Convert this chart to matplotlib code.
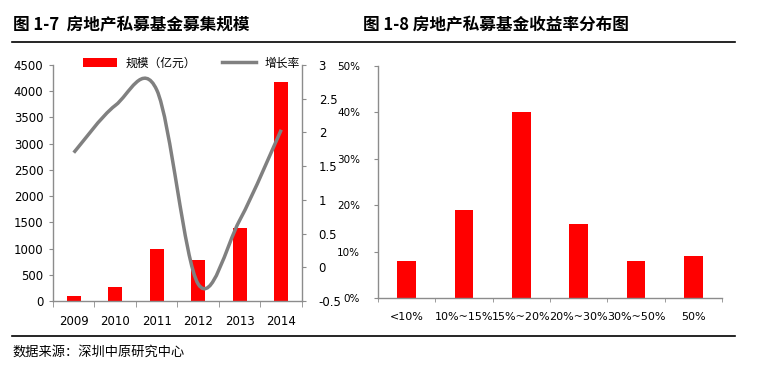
import matplotlib
matplotlib.use("Agg")
import numpy as np
import matplotlib.pyplot as plt
from matplotlib.path import Path
from matplotlib.patches import PathPatch, Patch
from matplotlib.lines import Line2D

plt.rcParams['font.family'] = ['Noto Sans CJK SC', 'DejaVu Sans']

# data
years = ['2009', '2010', '2011', '2012', '2013', '2014']
scale = [90, 270, 985, 775, 1385, 4170]
growth = [1.70, 2.40, 2.63, -0.25, 0.70, 2.04]

ret_labels = ['<10%', '10%~15%', '15%~20%', '20%~30%', '30%~50%', '50%']
ret_share = [8, 19, 40, 16, 8, 9]

W, H = 759, 368
fig = plt.figure(figsize=(W / 100, H / 100), dpi=100)
GRAY = '#8c8c8c'
RED = '#ff0000'


def px_axes(x0, y0, x1, y1):
    return fig.add_axes([x0 / W, 1 - y1 / H, (x1 - x0) / W, (y1 - y0) / H])


def style(ax):
    for s in ax.spines.values():
        s.set_color(GRAY)
        s.set_linewidth(1)
    ax.spines['top'].set_visible(False)
    ax.tick_params(colors=GRAY, labelcolor='black')


# ---- left chart
ax = px_axes(53, 65, 302, 301)
x = np.arange(len(years))
ax.bar(x, scale, width=0.34, color=RED, zorder=2)
ax.set_xlim(-0.5, 5.5)
ax.set_ylim(0, 4500)
ax.set_yticks(np.arange(0, 4501, 500))
ax.set_xticks(x)
ax.set_xticklabels(years, fontsize=8.5, family='DejaVu Sans')
ax.set_xticks(np.arange(-0.5, 6, 1), minor=True)
ax.tick_params(axis='x', which='major', length=0, pad=10)
ax.tick_params(axis='x', which='minor', length=4, color=GRAY)
ax.tick_params(axis='y', length=3, labelsize=8.5, pad=4)
for t in ax.get_yticklabels():
    t.set_family('DejaVu Sans')
style(ax)
ax.spines['right'].set_visible(False)

ax2 = ax.twinx()
ax2.set_ylim(-0.5, 3)
ax2.set_yticks([-0.5, 0, 0.5, 1, 1.5, 2, 2.5, 3])
ax2.set_yticklabels(['-0.5', '0', '0.5', '1', '1.5', '2', '2.5', '3'],
                    fontsize=8.5, family='DejaVu Sans')
ax2.tick_params(axis='y', length=3, pad=9)
style(ax2)
ax2.spines['left'].set_visible(False)
ax2.spines['bottom'].set_visible(False)

# smooth line (bezier through the points, like a spreadsheet "smoothed line")
pts = np.column_stack([x, growth]).astype(float)
ext = np.vstack([pts[0], pts, pts[-1]])
verts = [tuple(pts[0])]
codes = [Path.MOVETO]
for i in range(len(pts) - 1):
    p0, p1, p2, p3 = ext[i], ext[i + 1], ext[i + 2], ext[i + 3]
    c1 = p1 + (p2 - p0) / 6
    c2 = p2 - (p3 - p1) / 6
    verts += [tuple(c1), tuple(c2), tuple(p2)]
    codes += [Path.CURVE4] * 3
ax2.add_patch(PathPatch(Path(verts, codes), facecolor='none', edgecolor='#808080',
                        lw=2.5, zorder=3, capstyle='butt'))

handles = [Patch(facecolor=RED, edgecolor='none', label='规模（亿元）'),
           Line2D([], [], color='#808080', lw=2.5, label='增长率')]
fig.legend(handles=handles, loc='center left', bbox_to_anchor=(83 / W, 1 - 63 / H),
           ncol=2, frameon=False, fontsize=8.5, borderpad=0, borderaxespad=0,
           handlelength=2.9, handleheight=0.8, handletextpad=0.7, columnspacing=2.2)

# ---- right chart
bx = px_axes(378, 66, 722, 298)
xr = np.arange(len(ret_labels))
bx.bar(xr, ret_share, width=0.32, color=RED, zorder=2)
bx.set_xlim(-0.5, 5.5)
bx.set_ylim(0, 50)
bx.set_yticks(np.arange(0, 51, 10))
bx.set_yticklabels([f'{v}%' for v in range(0, 51, 10)], fontsize=7.5,
                   family='DejaVu Sans')
bx.set_xticks(xr)
bx.set_xticklabels(ret_labels, fontsize=8, family='DejaVu Sans')
bx.set_xticks(np.arange(-0.5, 6, 1), minor=True)
bx.tick_params(axis='x', which='major', length=0, pad=10)
bx.tick_params(axis='x', which='minor', length=3, color=GRAY)
bx.tick_params(axis='y', length=3, pad=10)
style(bx)
bx.spines['right'].set_visible(False)

# ---- titles, rules, source
fig.text(13 / W, 1 - 25 / H, '图 1-7  房地产私募基金募集规模', fontsize=12,
         fontweight='bold', va='center', ha='left')
fig.text(363 / W, 1 - 25 / H, '图 1-8 房地产私募基金收益率分布图', fontsize=12,
         fontweight='bold', va='center', ha='left')
for yy in (42, 336):
    fig.add_artist(Line2D([12 / W, 735 / W], [1 - yy / H, 1 - yy / H],
                          color='black', lw=1.2))
fig.text(12 / W, 1 - 352 / H, '数据来源：深圳中原研究中心', fontsize=9.5,
         va='center', ha='left')

fig.savefig('out.png', dpi=100)
